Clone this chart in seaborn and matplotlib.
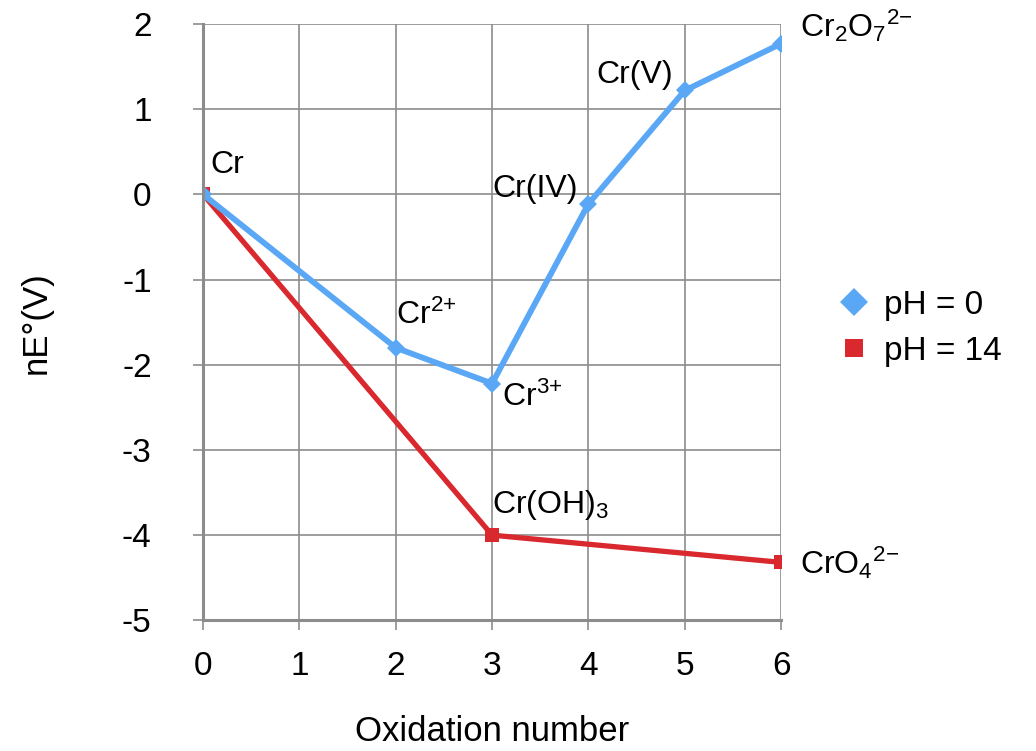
import matplotlib
matplotlib.use("Agg")
import matplotlib.pyplot as plt
import seaborn as sns
import pandas as pd
from matplotlib.lines import Line2D

# Frost diagram data for chromium
ox_acid = [0, 2, 3, 4, 5, 6]
ne_acid = [0.0, -1.80, -2.22, -0.11, 1.22, 1.77]
lab_acid = [r"Cr", r"Cr$^{2{+}}$", r"Cr$^{3{+}}$", r"Cr(IV)", r"Cr(V)", r"Cr$_2$O$_7$$^{2{-}}$"]

ox_base = [0, 3, 6]
ne_base = [0.0, -4.0, -4.32]
lab_base = [None, r"Cr(OH)$_3$", r"CrO$_4$$^{2{-}}$"]

series_names = ["pH = 0", "pH = 14"]
blue = "#5aa8f5"
red = "#d9282e"

df = pd.concat([
    pd.DataFrame({"ox": ox_acid, "nE": ne_acid, "series": series_names[0]}),
    pd.DataFrame({"ox": ox_base, "nE": ne_base, "series": series_names[1]}),
])

sns.set_style("whitegrid")
plt.rcParams["font.family"] = ["Liberation Sans", "DejaVu Sans"]
plt.rcParams["mathtext.fontset"] = "custom"
plt.rcParams["mathtext.rm"] = "Liberation Sans"
plt.rcParams["mathtext.it"] = "Liberation Sans:italic"
plt.rcParams["mathtext.default"] = "rm"
plt.rcParams["text.color"] = "black"
plt.rcParams["axes.labelcolor"] = "black"
plt.rcParams["xtick.color"] = "black"
plt.rcParams["ytick.color"] = "black"

fig = plt.figure(figsize=(10.36, 7.51), dpi=100)
ax = fig.add_axes([0.196, 0.174, 0.558, 0.794])

# red first so blue sits on top near the origin
sns.lineplot(data=df[df.series == series_names[1]], x="ox", y="nE", ax=ax,
             color=red, lw=3.8, marker="s", markersize=10, markeredgewidth=0,
             legend=False)
sns.lineplot(data=df[df.series == series_names[0]], x="ox", y="nE", ax=ax,
             color=blue, lw=4.2, marker="D", markersize=9, markeredgewidth=0,
             legend=False)

# point labels (pixel offsets from each point)
fs = 23
offs_acid = [(7, 29, "left"), (0, 32, "left"), (10, -14, "left"),
             (-11, 15, "right"), (-12, 15, "right"), (19, 18, "left")]
for x, y, t, (dx, dy, ha) in zip(ox_acid, ne_acid, lab_acid, offs_acid):
    ax.annotate(t, (x, y), xytext=(dx, dy), textcoords="offset pixels",
                ha=ha, va="center", fontsize=fs, annotation_clip=False)
offs_base = [None, (0, 30, "left"), (19, 0, "left")]
for x, y, t, o in zip(ox_base, ne_base, lab_base, offs_base):
    if t is None:
        continue
    dx, dy, ha = o
    ax.annotate(t, (x, y), xytext=(dx, dy), textcoords="offset pixels",
                ha=ha, va="center", fontsize=fs, annotation_clip=False)

ax.set_xlim(0, 6)
ax.set_ylim(-5, 2)
ax.set_xticks(range(0, 7))
ax.set_yticks(range(-5, 3))
ax.set_yticklabels([str(v) for v in range(-5, 3)])
ax.grid(True, color="#8c8c8c", lw=1.2)
ax.set_facecolor("white")
for s in ["top", "right"]:
    ax.spines[s].set_visible(False)
for s in ["left", "bottom"]:
    ax.spines[s].set_color("#8c8c8c")
    ax.spines[s].set_linewidth(2.2)
ax.tick_params(axis="both", which="major", length=7, width=1.2, color="#8c8c8c",
               labelsize=24, direction="out", bottom=True, left=True)
ax.tick_params(axis="x", pad=15)
ax.tick_params(axis="y", pad=30)

ax.set_xlabel("Oxidation number", fontsize=25, labelpad=24)
ax.set_ylabel("nE°(V)", fontsize=25, labelpad=50)

handles = [Line2D([], [], ls="none", marker="D", color=blue, markersize=14, markeredgewidth=0),
           Line2D([], [], ls="none", marker="s", color=red, markersize=13, markeredgewidth=0)]
ax.legend(handles, series_names, loc="center left", bbox_to_anchor=(1.04, 0.49),
          frameon=False, fontsize=24, handletextpad=0.3, labelspacing=0.45,
          handlelength=1.2)

fig.savefig("out.png", dpi=100)
